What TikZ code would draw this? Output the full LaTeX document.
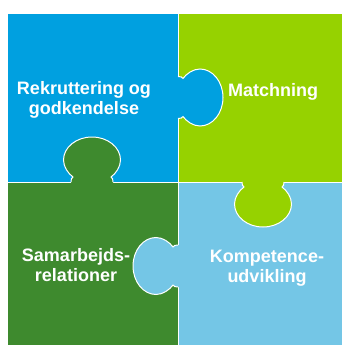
\documentclass[tikz,border=0pt]{standalone}
\usepackage{fontspec}
\setmainfont{Liberation Sans}

\definecolor{puzblue}{RGB}{0,160,224}
\definecolor{puzlime}{RGB}{150,210,0}
\definecolor{puzdkgreen}{RGB}{62,138,46}
\definecolor{puzltblue}{RGB}{116,198,230}

% outline of one knob, pointing along +x from the seam
\newcommand{\knobcurve}{(0,-21) .. controls (2.5,-21) and (4.5,-20.5) .. (5,-19)
  .. controls (8.5,-23.8) and (15,-28.5) .. (22,-28.5)
  .. controls (34.7,-28.5) and (45,-15.7) .. (45,0)
  .. controls (45,15.7) and (34.7,28.5) .. (22,28.5)
  .. controls (15,28.5) and (8.5,23.8) .. (5,19)
  .. controls (4.5,20.5) and (2.5,21) .. (0,21)}

\begin{document}
\begin{tikzpicture}[x=1pt, y=-1pt]
    \tikzstyle{piecetext}=[text=white, font=\bfseries\fontsize{18}{20}\selectfont, align=center]
    \tikzstyle{seam}=[draw=white, line width=1pt]
    \useasboundingbox (0,0) rectangle (342,345);

    % Pieces
    \fill[puzblue] (8,14) rectangle (178,182);
    \fill[puzlime] (178,14) rectangle (342,182);
    \fill[puzdkgreen] (8,182) rectangle (178,345);
    \fill[puzltblue] (178,182) rectangle (342,345);

    % Seams
    \draw[seam] (178,14) -- (178,345);
    \draw[seam] (8,182) -- (342,182);

    % Knobs
    \foreach \px/\py/\ang/\col in {178/97.5/0/puzblue, 92/182/90/puzdkgreen, 263/182/-90/puzlime, 178/266/180/puzltblue}
    {
        \begin{scope}[shift={(\px,\py)}, rotate=\ang]
            \fill[\col] (-1.5,-21) -- \knobcurve -- (-1.5,21) -- cycle;
            \draw[seam] \knobcurve;
        \end{scope}
    }

    % Texts
    \node[piecetext] (rekrut) at (84,100) {Rekruttering og\\godkendelse};
    \node[piecetext] (match) at (273,92) {Matchning};
    \node[piecetext] (samarb) at (76,265) {Samarbejds-\\relationer};
    \node[piecetext] (kompet) at (267,268) {Kompetence-\\udvikling};
\end{tikzpicture}
\end{document}
